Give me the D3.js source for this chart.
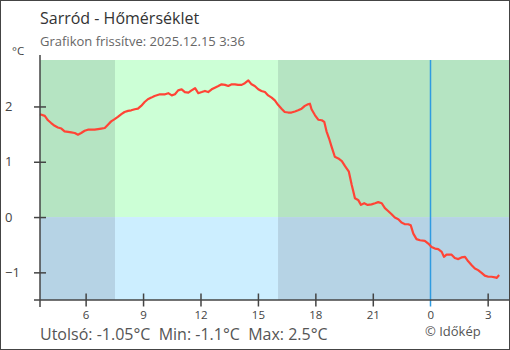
<!DOCTYPE html>
<html>
<head>
<meta charset="utf-8">
<script src="https://cdn.jsdelivr.net/npm/d3@7"></script>
<style>
  html, body { margin: 0; padding: 0; background: #fff; }
  svg { display: block; }
  text { font-family: "Open Sans", "Noto Sans", sans-serif; }
</style>
</head>
<body>
<svg id="chart" width="510" height="350"></svg>
<script>
// Hőmérséklet mérések (helyi idő, °C)
const times = [
  "03:37","03:52","04:02","04:12","04:23","04:33","04:44","04:54","05:05","05:15",
  "05:26","05:36","05:46","05:57","06:07","06:18","06:28","06:39","06:49","07:00",
  "07:10","07:20","07:31","07:41","07:52","08:02","08:13","08:23","08:34","08:44",
  "08:54","09:05","09:15","09:26","09:36","09:53","10:09","10:19","10:30","10:40",
  "10:50","11:01","11:11","11:22","11:32","11:43","11:53","12:04","12:14","12:24",
  "12:35","12:45","12:56","13:06","13:17","13:27","13:38","13:48","13:58","14:09",
  "14:19","14:30","14:40","14:50","15:01","15:11","15:22","15:32","15:43","15:53",
  "16:03","16:14","16:24","16:35","16:45","16:56","17:06","17:17","17:27","17:37",
  "17:43","17:48","17:59","18:09","18:20","18:28","18:35","18:43","18:51","19:01",
  "19:12","19:23","19:33","19:45","19:54","19:59","20:04","20:14","20:23","20:33",
  "20:44","20:56","21:07","21:17","21:28","21:38","21:48","21:59","22:09","22:20",
  "22:30","22:41","22:51","22:59","23:07","23:17","23:28","23:43","23:54","00:04",
  "00:15","00:25","00:36","00:43","00:51","01:07","01:17","01:28","01:38","01:49",
  "01:59","02:10","02:20","02:30","02:41","02:51","03:02","03:12","03:23","03:28",
  "03:36"
];
const temps = [
  1.86,1.83,1.75,1.70,1.65,1.62,1.60,1.55,1.54,1.53,
  1.52,1.49,1.52,1.56,1.58,1.58,1.58,1.59,1.60,1.61,
  1.67,1.73,1.77,1.81,1.86,1.90,1.92,1.93,1.95,1.96,
  2.01,2.08,2.13,2.16,2.19,2.22,2.22,2.24,2.20,2.22,
  2.29,2.31,2.26,2.25,2.29,2.33,2.24,2.26,2.28,2.26,
  2.31,2.34,2.37,2.40,2.39,2.37,2.40,2.40,2.39,2.39,
  2.42,2.47,2.40,2.37,2.31,2.28,2.26,2.20,2.16,2.11,
  2.03,1.96,1.90,1.89,1.89,1.91,1.93,1.96,2.01,2.04,
  2.05,1.95,1.84,1.76,1.75,1.72,1.55,1.42,1.27,1.09,
  1.06,1.01,0.92,0.82,0.58,0.46,0.34,0.31,0.22,0.25,
  0.22,0.23,0.25,0.27,0.25,0.16,0.11,0.05,-0.01,-0.04,
  -0.10,-0.13,-0.13,-0.15,-0.30,-0.40,-0.42,-0.43,-0.48,-0.54,
  -0.57,-0.58,-0.63,-0.72,-0.68,-0.68,-0.74,-0.76,-0.73,-0.72,
  -0.80,-0.87,-0.93,-0.96,-1.01,-1.06,-1.08,-1.08,-1.09,-1.10,
  -1.05
];
const yTicks = [-1, 0, 1, 2];
const sunrise = "07:32";
const sunset = "16:03";
const startTime = "03:37";
const endTime = "04:10";
const updated = "2025.12.15 3:36";
const stats = { last: -1.05, min: -1.1, max: 2.5 };

const base = new Date(2025, 11, 14);
function at(hm, dayOffset) {
  const [h, m] = hm.split(":").map(Number);
  return new Date(base.getFullYear(), base.getMonth(), base.getDate() + dayOffset, h, m);
}

// Idősor: éjfél után a következő napra lépünk
let day = 0, prevMin = -1;
const data = times.map((t, i) => {
  const [h, m] = t.split(":").map(Number);
  const mins = h * 60 + m;
  if (mins < prevMin) day += 1;
  prevMin = mins;
  return { date: at(t, day), value: temps[i] };
});

const W = 510, H = 350;
const plot = { left: 40, right: 510, top: 60, bottom: 300 };

const svg = d3.select("#chart");

const x = d3.scaleTime()
  .domain([at(startTime, 0), at(endTime, 1)])
  .range([plot.left, plot.right]);
const y = d3.scaleLinear()
  .domain([-1.5, 2.84])
  .range([plot.bottom, plot.top]);

// Háttér: nappal / éjszaka, fagypont felett / alatt
const x0 = plot.left, x1 = plot.right;
const xs = x(at(sunrise, 0)), xe = x(at(sunset, 0));
const y0 = y(0);
const bands = [
  { a: x0, b: xs, top: plot.top, bot: y0, fill: "#b5e4c2" },
  { a: xs, b: xe, top: plot.top, bot: y0, fill: "#ccffd6" },
  { a: xe, b: x1, top: plot.top, bot: y0, fill: "#b5e4c2" },
  { a: x0, b: xs, top: y0, bot: plot.bottom, fill: "#b6d3e5" },
  { a: xs, b: xe, top: y0, bot: plot.bottom, fill: "#cceeff" },
  { a: xe, b: x1, top: y0, bot: plot.bottom, fill: "#b6d3e5" }
];
svg.append("g").selectAll("rect").data(bands).join("rect")
  .attr("x", d => d.a).attr("y", d => d.top)
  .attr("width", d => d.b - d.a).attr("height", d => d.bot - d.top)
  .attr("fill", d => d.fill);

// Éjfél jelölése
const xm = Math.round(x(at("00:00", 1))) + 0.5;
svg.append("line")
  .attr("x1", xm).attr("x2", xm)
  .attr("y1", plot.top).attr("y2", plot.bottom + 6.5)
  .attr("stroke", "#2f9be0").attr("stroke-width", 1.5);

// Hőmérsékleti görbe
const line = d3.line()
  .x(d => x(d.date))
  .y(d => y(d.value))
  .curve(d3.curveLinear);
svg.append("path")
  .datum(data)
  .attr("d", line)
  .attr("fill", "none")
  .attr("stroke", "#ff4436")
  .attr("stroke-width", 2.2)
  .attr("stroke-linejoin", "round");

// Tengelyek
const axisColor = "#444";
const xAxis = d3.axisBottom(x)
  .ticks(d3.timeHour.every(3))
  .tickFormat(d3.timeFormat("%-H"))
  .tickSizeInner(6.5).tickSizeOuter(0).tickPadding(5);
const gx = svg.append("g")
  .attr("transform", `translate(0,${plot.bottom})`)
  .call(xAxis);
gx.select(".domain").remove();
gx.append("line").attr("x1", 34).attr("x2", plot.right)
  .attr("stroke", axisColor).attr("stroke-width", 1.5);
gx.selectAll(".tick line")
  .attr("y1", -6.5)
  .attr("stroke", axisColor)
  .attr("stroke-width", 1.5);
gx.selectAll(".tick").filter(d => d.getHours() === 0).select("line").remove();
gx.selectAll(".tick text")
  .attr("y", 18.5).attr("dy", null)
  .attr("fill", "#444").attr("font-size", 11.5)
  .attr("font-family", "Open Sans, Noto Sans, sans-serif");

const yAxis = d3.axisLeft(y).tickValues(yTicks).tickFormat(d3.format("d"))
  .tickSizeInner(6).tickSizeOuter(0);
const gy = svg.append("g")
  .attr("transform", `translate(${plot.left},0)`)
  .call(yAxis);
gy.select(".domain").remove();
gy.append("line").attr("y1", 55).attr("y2", plot.bottom + 7)
  .attr("stroke", axisColor).attr("stroke-width", 1.5);
gy.selectAll(".tick line")
  .attr("x1", -6).attr("x2", 6)
  .attr("stroke", axisColor).attr("stroke-width", 1.5);
gy.selectAll(".tick text")
  .attr("text-anchor", "start")
  .attr("x", -35)
  .attr("fill", "#444").attr("font-size", 13)
  .attr("font-family", "Open Sans, Noto Sans, sans-serif");

// Feliratok
svg.append("text").attr("x", 40).attr("y", 24)
  .attr("font-size", 16).attr("fill", "#333")
  .text("Sarród - Hőmérséklet");
svg.append("text").attr("x", 40).attr("y", 45.5)
  .attr("font-size", 13).attr("fill", "#666")
  .text("Grafikon frissítve: " + updated);
svg.append("text").attr("x", 12).attr("y", 55)
  .attr("font-size", 11.5).attr("fill", "#444")
  .text("°C");

const fmt = v => String(v).replace("−", "-");
svg.append("text").attr("x", 40).attr("y", 339.5)
  .attr("font-size", 16).attr("fill", "#555")
  .attr("xml:space", "preserve")
  .text(`Utolsó: ${fmt(stats.last)}°C  Min: ${fmt(stats.min)}°C  Max: ${fmt(stats.max)}°C`);
svg.append("text").attr("x", 425).attr("y", 336)
  .attr("font-size", 13).attr("fill", "#555")
  .text("© Időkép");

// Keret
svg.append("rect").attr("x", 0.5).attr("y", 0.5)
  .attr("width", W - 1).attr("height", H - 1)
  .attr("fill", "none").attr("stroke", "#444").attr("stroke-width", 1);
</script>
</body>
</html>
